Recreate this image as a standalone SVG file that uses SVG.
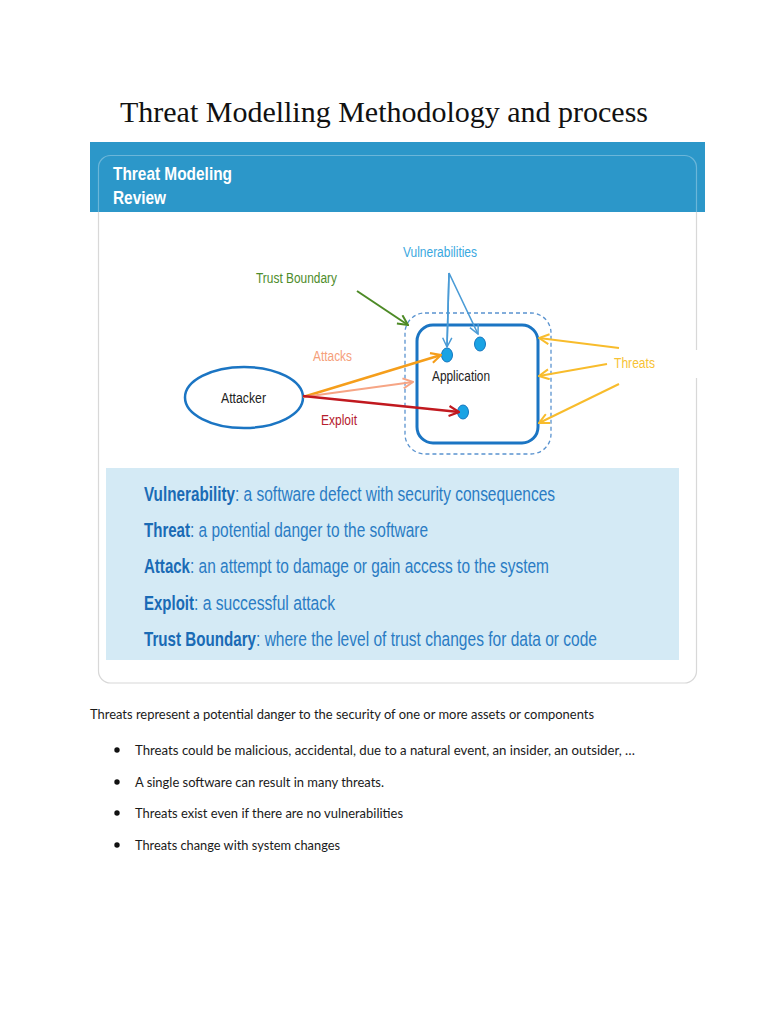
<svg xmlns="http://www.w3.org/2000/svg" width="768" height="1024" viewBox="0 0 768 1024">
<style>
.title{font-family:"Liberation Serif","Times New Roman",serif;font-size:30px;fill:#111}
.hdr{font-family:"Liberation Sans",Arial,sans-serif;font-weight:bold;font-size:19px;fill:#fff}
.lbl{font-family:"Liberation Sans",Arial,sans-serif;font-size:14px}
.def{font-family:"Liberation Sans",Arial,sans-serif;font-size:19.5px;fill:#2a7cc4}
.defb{font-family:"Liberation Sans",Arial,sans-serif;font-size:19.5px;font-weight:bold;fill:#1a6bb5}
.body{font-family:"Lato","Open Sans",sans-serif;font-size:13.5px;fill:#1a1a1a}
.dot{fill:#1aa3e4;stroke:#1677c0;stroke-width:1}
.conn{fill:none}
</style>
<defs>
<marker id="aBlue" viewBox="0 0 12 12" refX="11" refY="6" markerWidth="11" markerHeight="11" markerUnits="userSpaceOnUse" orient="auto"><path d="M1,1 L11,6 L1,11" fill="none" stroke="#4a9bd6" stroke-width="1.6"/></marker>
<marker id="aGreen" viewBox="0 0 12 12" refX="11" refY="6" markerWidth="12" markerHeight="12" markerUnits="userSpaceOnUse" orient="auto"><path d="M1,1 L11,6 L1,11" fill="none" stroke="#4d8a26" stroke-width="2"/></marker>
<marker id="aOrange" viewBox="0 0 12 12" refX="11" refY="6" markerWidth="12" markerHeight="12" markerUnits="userSpaceOnUse" orient="auto"><path d="M1,1 L11,6 L1,11" fill="none" stroke="#f59e1b" stroke-width="2.2"/></marker>
<marker id="aSalmon" viewBox="0 0 12 12" refX="11" refY="6" markerWidth="12" markerHeight="12" markerUnits="userSpaceOnUse" orient="auto"><path d="M1,1 L11,6 L1,11" fill="none" stroke="#f6a585" stroke-width="2"/></marker>
<marker id="aRed" viewBox="0 0 12 12" refX="11" refY="6" markerWidth="12" markerHeight="12" markerUnits="userSpaceOnUse" orient="auto"><path d="M1,1 L11,6 L1,11" fill="none" stroke="#c1191f" stroke-width="2.2"/></marker>
<marker id="aYellow" viewBox="0 0 12 12" refX="11" refY="6" markerWidth="12" markerHeight="12" markerUnits="userSpaceOnUse" orient="auto"><path d="M1,1 L11,6 L1,11" fill="none" stroke="#f8bc2c" stroke-width="2"/></marker>
<clipPath id="hdrClip"><rect x="90" y="142" width="615" height="70"/></clipPath>
</defs>
<rect width="768" height="1024" fill="#fff"/>

<text class="title" x="120" y="122" textLength="528" lengthAdjust="spacingAndGlyphs">Threat Modelling Methodology and process</text>

<g id="card">
<rect x="98.5" y="155.5" width="598" height="527.5" rx="12" fill="#fff" stroke="#d8d8d8" stroke-width="1.2"/>
<rect x="90" y="142" width="615" height="70" fill="#2c97c9"/>
<rect x="98.5" y="155.5" width="598" height="527.5" rx="12" fill="none" stroke="#ffffff" stroke-opacity="0.3" stroke-width="1.2" clip-path="url(#hdrClip)"/>
<text class="hdr" x="113" y="180" textLength="119" lengthAdjust="spacingAndGlyphs">Threat Modeling</text>
<text class="hdr" x="113" y="204" textLength="53" lengthAdjust="spacingAndGlyphs">Review</text>
<rect x="600" y="350" width="110" height="28" fill="#fff"/>
</g>

<g id="labels">
<text class="lbl" x="403" y="257" fill="#3aa8e0" textLength="74" lengthAdjust="spacingAndGlyphs">Vulnerabilities</text>
<text class="lbl" x="256" y="283" fill="#4e8c2b" textLength="81" lengthAdjust="spacingAndGlyphs">Trust Boundary</text>
<text class="lbl" x="313" y="361" fill="#f5a07a" textLength="39" lengthAdjust="spacingAndGlyphs">Attacks</text>
<text class="lbl" x="321" y="425" fill="#b5202e" textLength="36" lengthAdjust="spacingAndGlyphs">Exploit</text>
<text class="lbl" x="614" y="368" fill="#f7c234" textLength="41" lengthAdjust="spacingAndGlyphs">Threats</text>
</g>

<g id="trust-boundary">
<rect x="405" y="313" width="146" height="141" rx="20" fill="none" stroke="#5a93cf" stroke-width="1.3" stroke-dasharray="4 3"/>
</g>

<g id="application">
<rect x="417" y="325" width="121" height="118" rx="16" fill="#fff" stroke="#1b75c3" stroke-width="3"/>
<text class="lbl" x="432" y="381" fill="#222" textLength="58" lengthAdjust="spacingAndGlyphs">Application</text>
<ellipse class="dot" cx="447" cy="355" rx="5.5" ry="7"/>
<ellipse class="dot" cx="480" cy="344" rx="5.5" ry="7"/>
<ellipse class="dot" cx="463" cy="412" rx="5.5" ry="7"/>
</g>

<g id="attacker">
<ellipse cx="244" cy="397.5" rx="59" ry="30.5" fill="#fff" stroke="#1b75c3" stroke-width="2.5"/>
<text class="lbl" x="221" y="403" fill="#222" textLength="45" lengthAdjust="spacingAndGlyphs">Attacker</text>
</g>

<g id="connectors" class="conn">
<polyline points="447,347 449,273 478,334" fill="none" stroke="#4a9bd6" stroke-width="1.6" marker-end="url(#aBlue)"/>
<line x1="449" y1="273" x2="447" y2="347" stroke="#4a9bd6" stroke-width="1.6" marker-end="url(#aBlue)"/>
<line x1="357" y1="291" x2="408" y2="325" stroke="#4d8a26" stroke-width="2" marker-end="url(#aGreen)"/>
<line x1="303" y1="397" x2="441" y2="355" stroke="#f59e1b" stroke-width="2.5" marker-end="url(#aOrange)"/>
<line x1="303" y1="397" x2="413" y2="382" stroke="#f6a585" stroke-width="2" marker-end="url(#aSalmon)"/>
<line x1="303" y1="396" x2="459" y2="412" stroke="#c1191f" stroke-width="2.5" marker-end="url(#aRed)"/>
<line x1="619" y1="348" x2="539" y2="338" stroke="#f8bc2c" stroke-width="2" marker-end="url(#aYellow)"/>
<line x1="607" y1="364" x2="539" y2="376" stroke="#f8bc2c" stroke-width="2" marker-end="url(#aYellow)"/>
<line x1="619" y1="384" x2="539" y2="423" stroke="#f8bc2c" stroke-width="2" marker-end="url(#aYellow)"/>
</g>

<g id="definitions">
<rect x="106" y="468" width="573" height="192" fill="#d4eaf5"/>
<g transform="scale(0.78 1)">
<text class="defb" x="184.62" y="501" textLength="116.67" lengthAdjust="spacingAndGlyphs">Vulnerability</text>
<text class="def" x="301.28" y="501" textLength="410.26" lengthAdjust="spacingAndGlyphs">: a software defect with security consequences</text>
<text class="defb" x="184.62" y="537" textLength="58.97" lengthAdjust="spacingAndGlyphs">Threat</text>
<text class="def" x="243.59" y="537" textLength="305.13" lengthAdjust="spacingAndGlyphs">: a potential danger to the software</text>
<text class="defb" x="184.62" y="573" textLength="58.97" lengthAdjust="spacingAndGlyphs">Attack</text>
<text class="def" x="243.59" y="573" textLength="460.26" lengthAdjust="spacingAndGlyphs">: an attempt to damage or gain access to the system</text>
<text class="defb" x="184.62" y="610" textLength="64.10" lengthAdjust="spacingAndGlyphs">Exploit</text>
<text class="def" x="248.72" y="610" textLength="180.77" lengthAdjust="spacingAndGlyphs">: a successful attack</text>
<text class="defb" x="184.62" y="646" textLength="143.59" lengthAdjust="spacingAndGlyphs">Trust Boundary</text>
<text class="def" x="328.21" y="646" textLength="437.18" lengthAdjust="spacingAndGlyphs">: where the level of trust changes for data or code</text>
</g>
</g>

<g id="body-text">
<text class="body" x="90" y="719" textLength="504" lengthAdjust="spacingAndGlyphs">Threats represent a potential danger to the security of one or more assets or components</text>
<circle cx="117" cy="750" r="2.7" fill="#111"/>
<text class="body" x="135" y="755" textLength="500" lengthAdjust="spacingAndGlyphs">Threats could be malicious, accidental, due to a natural event, an insider, an outsider, …</text>
<circle cx="117" cy="782" r="2.7" fill="#111"/>
<text class="body" x="135" y="787" textLength="249" lengthAdjust="spacingAndGlyphs">A single software can result in many threats.</text>
<circle cx="117" cy="813" r="2.7" fill="#111"/>
<text class="body" x="135" y="818" textLength="268" lengthAdjust="spacingAndGlyphs">Threats exist even if there are no vulnerabilities</text>
<circle cx="117" cy="845" r="2.7" fill="#111"/>
<text class="body" x="135" y="850" textLength="205" lengthAdjust="spacingAndGlyphs">Threats change with system changes</text>
</g>
</svg>
